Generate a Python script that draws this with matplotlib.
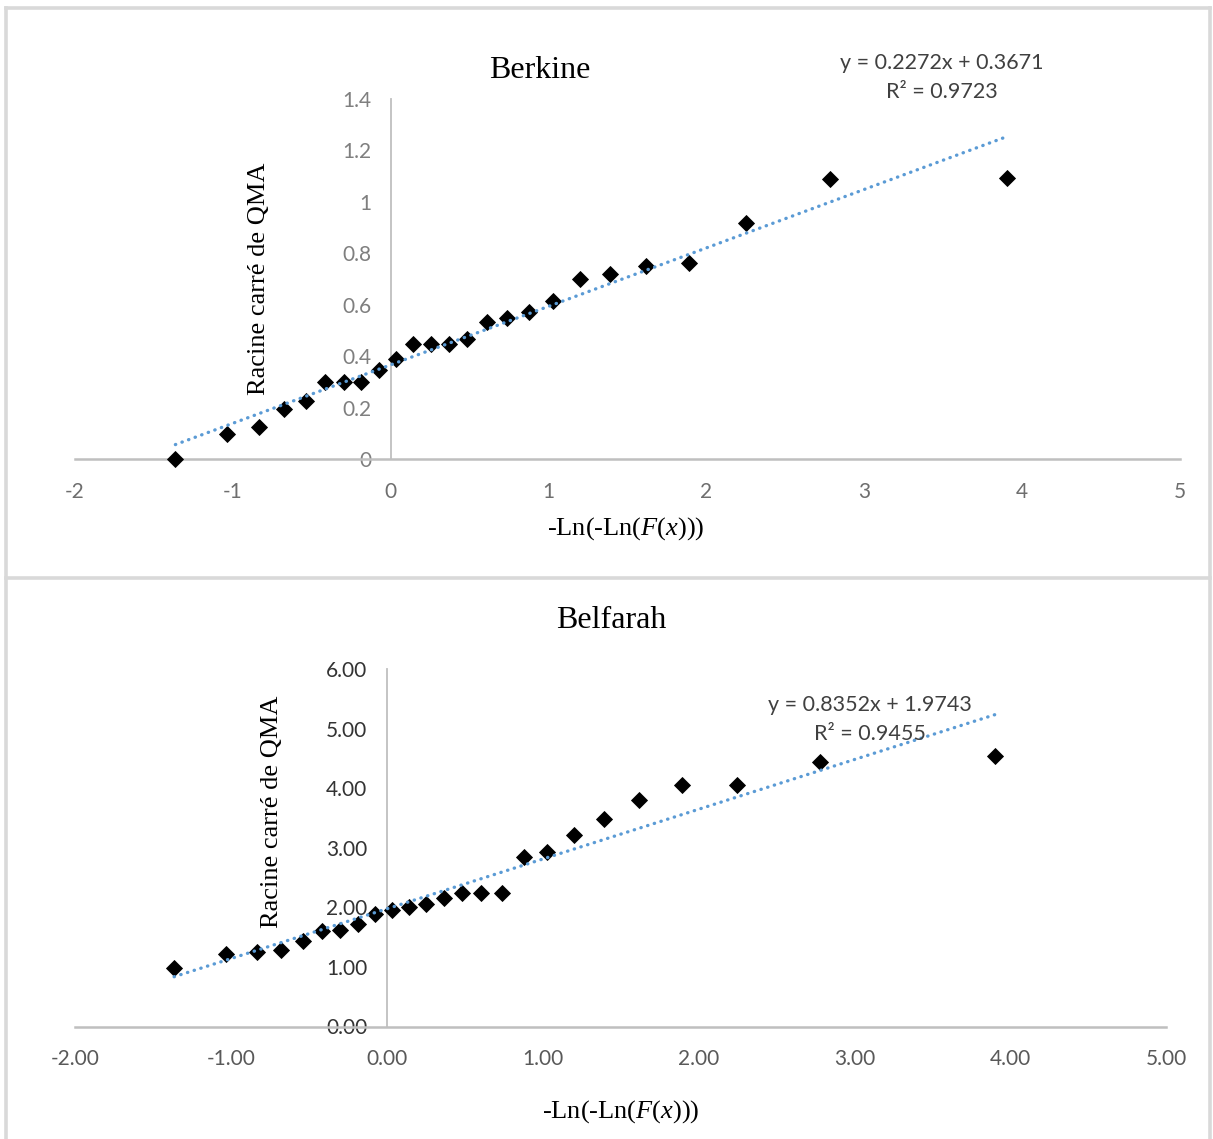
import numpy as np
import matplotlib
matplotlib.use("Agg")
import matplotlib.pyplot as plt
from matplotlib.lines import Line2D

# ---------------------------------------------------------------------------
# Data
# ---------------------------------------------------------------------------
# Gumbel reduced variate -Ln(-Ln(F(x))) of the 25 ranked observations
reduced_variate = [-1.364, -1.034, -0.834, -0.676, -0.539, -0.415, -0.298,
                   -0.186, -0.076, 0.033, 0.142, 0.253, 0.367, 0.484, 0.607,
                   0.738, 0.878, 1.031, 1.200, 1.392, 1.617, 1.892, 2.250,
                   2.783, 3.902]

# Square root of the annual maximum flow (QMA), ranked
berkine_sqrt_qma = [0.000, 0.098, 0.124, 0.194, 0.227, 0.299, 0.299, 0.302,
                    0.347, 0.390, 0.447, 0.447, 0.447, 0.467, 0.533, 0.548,
                    0.574, 0.615, 0.699, 0.720, 0.753, 0.762, 0.920, 1.089,
                    1.093]

belfarah_sqrt_qma = [0.980, 1.215, 1.249, 1.283, 1.439, 1.596, 1.625, 1.721,
                     1.889, 1.961, 2.000, 2.057, 2.152, 2.242, 2.242, 2.242,
                     2.842, 2.921, 3.212, 3.476, 3.796, 4.061, 4.061, 4.431,
                     4.532]

# Linear trend lines: slope, intercept, R²
berkine_fit = (0.2272, 0.3671, 0.9723)
belfarah_fit = (0.8352, 1.9743, 0.9455)

x_ticks = [-2, -1, 0, 1, 2, 3, 4, 5]
berkine_y_ticks = [0, 0.2, 0.4, 0.6, 0.8, 1.0, 1.2, 1.4]
belfarah_y_ticks = [0, 1, 2, 3, 4, 5, 6]

# ---------------------------------------------------------------------------
# Figure
# ---------------------------------------------------------------------------
W, H, DPI = 1213, 1139, 100
fig = plt.figure(figsize=(W / DPI, H / DPI), dpi=DPI, facecolor="white")

SERIF = ["Liberation Serif", "DejaVu Serif"]
SANS = ["Lato", "DejaVu Sans"]
plt.rcParams["mathtext.fontset"] = "custom"
plt.rcParams["mathtext.rm"] = "Liberation Serif"
plt.rcParams["mathtext.it"] = "Liberation Serif:italic"

BORDER = "#d9d9d9"
AXIS = "#bfbfbf"
TREND = "#5b9bd5"


def fx(px):
    return px / W


def fy(py):
    return 1 - py / H


# chart-area frames
for seg in [((6, 6), (8, H)), ((1210, 1210), (8, H)), ((6, 1210), (8, 8)),
            ((6, 1210), (578, 578))]:
    fig.add_artist(Line2D([fx(seg[0][0]), fx(seg[0][1])],
                          [fy(seg[1][0]), fy(seg[1][1])],
                          transform=fig.transFigure, color=BORDER, lw=2.6))


def panel(x0, x1, y_top, y_bot, xs, ys, fit, ymax, yticks, fmt,
          ytick_color, xtick_color, title, title_xy, ylab_xy, xlab_xy,
          eq_xy):
    ax = fig.add_axes([fx(x0), fy(y_bot), (x1 - x0) / W, (y_bot - y_top) / H])
    ax.set_xlim(-2, 5)
    ax.set_ylim(0, ymax)
    ax.patch.set_alpha(0)
    for s in ("top", "right"):
        ax.spines[s].set_visible(False)
    ax.spines["left"].set_position(("data", 0))
    ax.spines["bottom"].set_position(("data", 0))
    ax.spines["left"].set_color(AXIS)
    ax.spines["bottom"].set_color(AXIS)
    ax.spines["left"].set_linewidth(1.3)
    ax.spines["bottom"].set_linewidth(1.8)

    ax.set_xticks(x_ticks)
    ax.set_xticklabels([fmt(v) for v in x_ticks])
    ax.set_yticks(yticks)
    ax.set_yticklabels([fmt(v) for v in yticks])
    ax.tick_params(axis="both", length=0)
    ax.tick_params(axis="y", pad=14, labelcolor=ytick_color, labelsize=15)
    ax.tick_params(axis="x", pad=16, labelcolor=xtick_color, labelsize=15)
    for lab in ax.get_xticklabels() + ax.get_yticklabels():
        lab.set_fontfamily(SANS)

    ax.plot(xs, ys, linestyle="none", marker="D", ms=7.8, color="black",
            mec="black", mew=0.6, clip_on=False, zorder=3)

    slope, intercept, r2 = fit
    xl = np.array([min(xs), max(xs)])
    ax.plot(xl, slope * xl + intercept, color=TREND, lw=2.4,
            linestyle=(0, (0.1, 2.0)), dash_capstyle="round", zorder=4,
            clip_on=False)

    fig.text(fx(title_xy[0]), fy(title_xy[1]), title, ha="center",
             va="center", fontsize=23, family=SERIF, color="black")
    fig.text(fx(ylab_xy[0]), fy(ylab_xy[1]), "Racine carré de QMA",
             ha="center", va="center", rotation=90, fontsize=19,
             family=SERIF, color="black")
    fig.text(fx(xlab_xy[0]), fy(xlab_xy[1]), r"-Ln(-Ln($\mathit{F(x)}$))",
             ha="center", va="center", fontsize=19, family=SERIF,
             color="black")
    fig.text(fx(eq_xy[0]), fy(eq_xy[1]),
             f"y = {slope:.4f}x + {intercept:.4f}", ha="center",
             va="center", fontsize=15.5, family=SANS, color="#404040")
    fig.text(fx(eq_xy[0]), fy(eq_xy[1] + 29), f"R² = {r2:.4f}",
             ha="center", va="center", fontsize=15.5, family=SANS,
             color="#404040")
    return ax


panel(75, 1180, 99, 459.3, reduced_variate, berkine_sqrt_qma, berkine_fit,
      1.4, berkine_y_ticks, lambda v: f"{v:g}", "#7f7f7f", "#6e6e6e",
      "Berkine", (540, 70), (259, 279), (626, 529), (942, 63))

panel(75, 1166, 669, 1026.5, reduced_variate, belfarah_sqrt_qma,
      belfarah_fit, 6, belfarah_y_ticks, lambda v: f"{v:.2f}", "#333333",
      "#595959", "Belfarah", (611, 620), (272, 812), (621, 1112), (870, 705))

fig.savefig("out.png", dpi=DPI, facecolor="white")
